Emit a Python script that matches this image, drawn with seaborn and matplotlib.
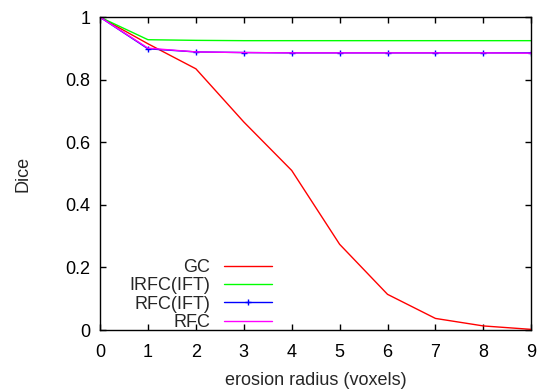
import matplotlib
matplotlib.use("Agg")
import matplotlib.pyplot as plt
import seaborn as sns
import pandas as pd

# erosion radius vs Dice
radius = [0, 1, 2, 3, 4, 5, 6, 7, 8, 9]
gc = [1.0, 0.915, 0.835, 0.665, 0.51, 0.274, 0.114, 0.037, 0.013, 0.002]
irfc_ift = [1.0, 0.928, 0.926, 0.925, 0.925, 0.925, 0.925, 0.925, 0.925, 0.925]
rfc_ift = [1.0, 0.899, 0.889, 0.887, 0.886, 0.886, 0.886, 0.886, 0.886, 0.886]
rfc = [1.0, 0.901, 0.889, 0.887, 0.886, 0.886, 0.886, 0.886, 0.886, 0.885]

series = [
    ("GC", gc, "#ff0000", None),
    ("IRFC(IFT)", irfc_ift, "#00ff00", None),
    ("RFC(IFT)", rfc_ift, "#0000ff", "+"),
    ("RFC", rfc, "#ff00ff", None),
]

sns.set_style("ticks")
plt.rcParams["font.family"] = ["Liberation Sans", "DejaVu Sans"]
fs = 13

fig = plt.figure(figsize=(5.41, 3.91), dpi=100)
ax = fig.add_axes([0.185, 0.156, 0.797, 0.8])

for name, vals, color, mk in series:
    df = pd.DataFrame({"radius": radius, "dice": vals})
    sns.lineplot(data=df, x="radius", y="dice", ax=ax, color=color, lw=1,
                 marker=mk, markersize=5, markeredgewidth=1,
                 markeredgecolor=color, label=name)

ax.set_xlim(0, 9)
ax.set_ylim(0, 1)
ax.set_xticks(radius)
ax.set_yticks([0, 0.2, 0.4, 0.6, 0.8, 1])
ax.set_yticklabels(["0", "0.2", "0.4", "0.6", "0.8", "1"])
ax.set_xlabel("erosion radius (voxels)", fontsize=fs, labelpad=8)
ax.set_ylabel("Dice", fontsize=fs, labelpad=24)
ax.tick_params(direction="in", length=4, width=1, top=True, right=True,
               labelsize=fs, colors="black")
ax.tick_params(axis="x", pad=10)
ax.tick_params(axis="y", pad=7)
for s in ax.spines.values():
    s.set_color("black")
    s.set_linewidth(1)

ax.legend(loc="lower left", bbox_to_anchor=(0.03, -0.055), frameon=False,
          markerfirst=False, handlelength=2.7, handletextpad=0.75,
          labelspacing=0.07, fontsize=fs)

fig.savefig("out.png", dpi=100)
